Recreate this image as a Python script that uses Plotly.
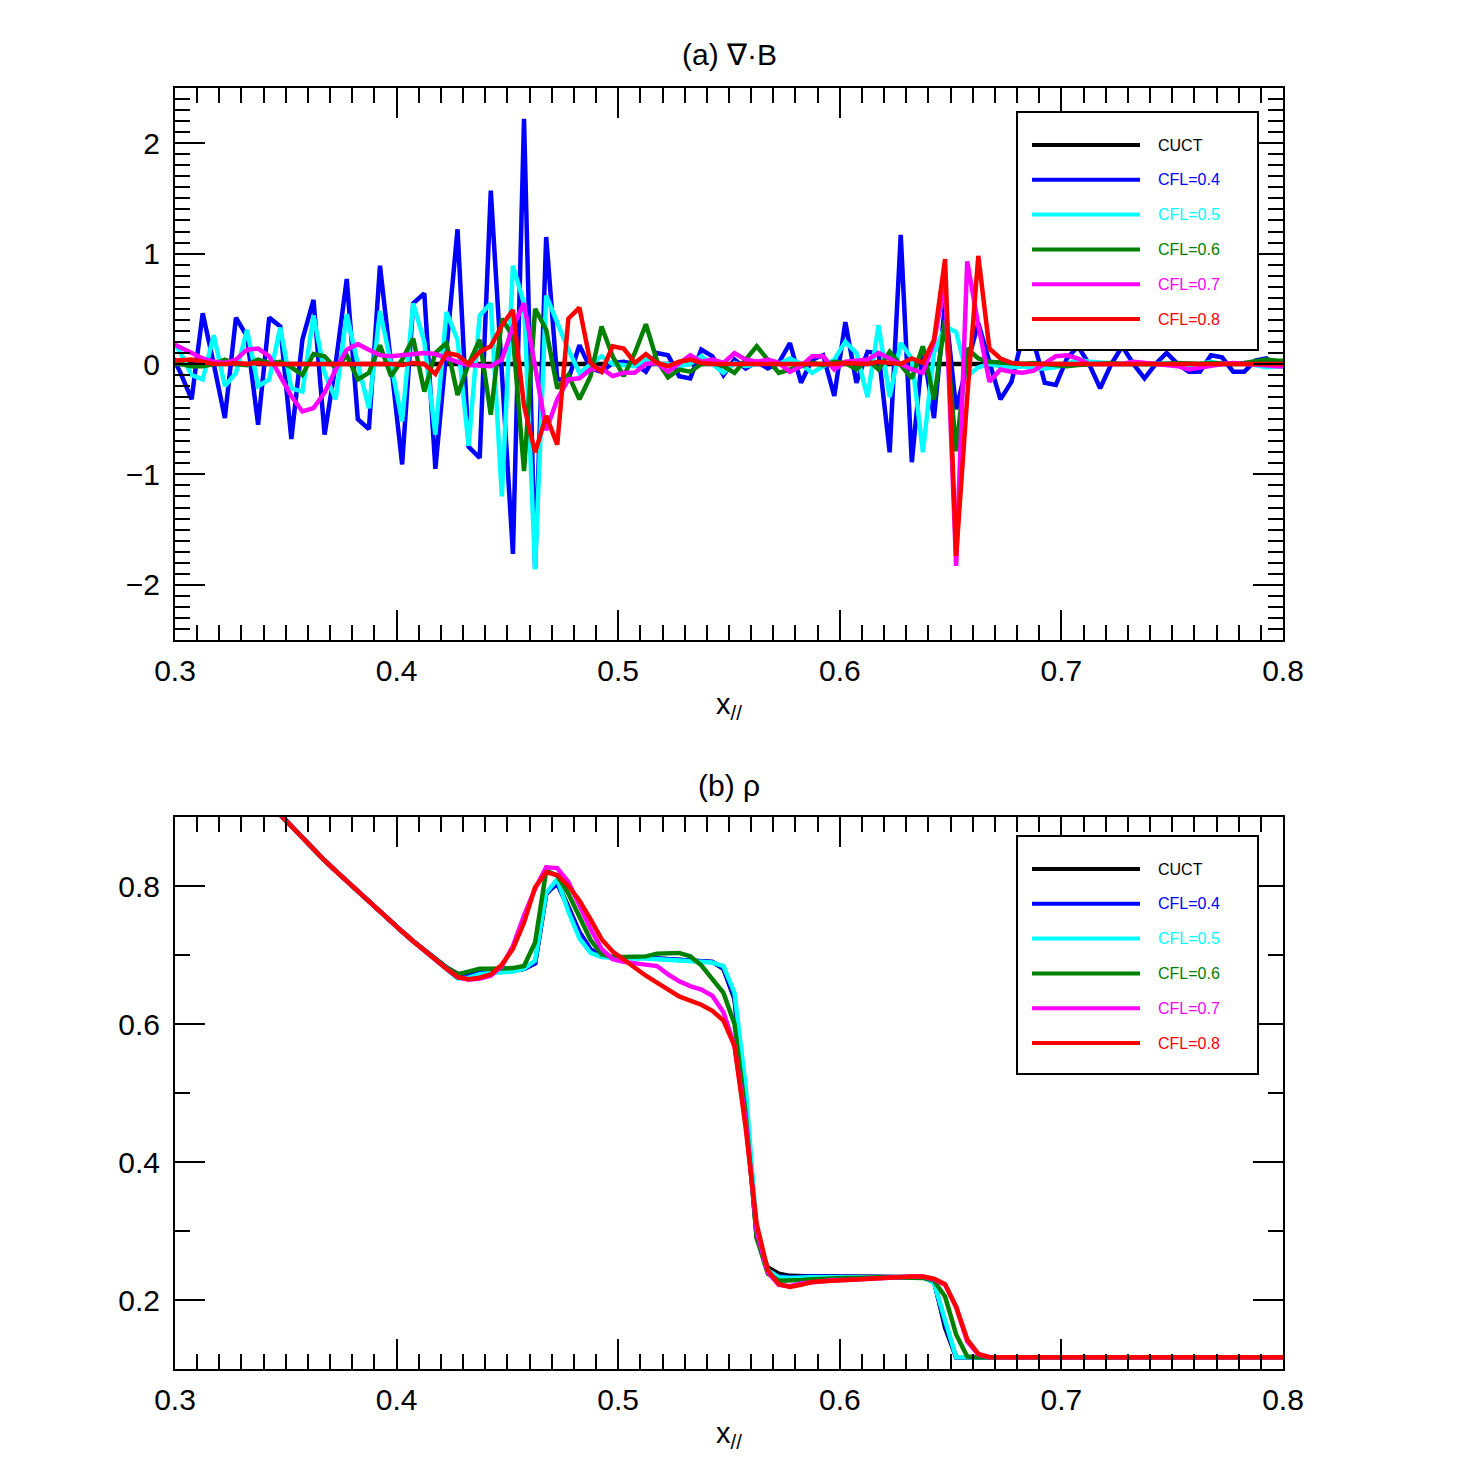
import plotly.graph_objects as go

# ---------------- data ----------------
# sample grid (cell centres, dx = 0.005)
x_top = [round(0.3025 + 0.005 * k, 4) for k in range(-1, 101)]
x_bot = [round(0.3025 + 0.005 * k, 4) for k in range(8, 101)]

series_names = ["CUCT", "CFL=0.4", "CFL=0.5", "CFL=0.6", "CFL=0.7", "CFL=0.8"]

# (a) div B
divb_cuct = [0.0] * 102
divb_cfl04 = [0.12,
    -0.08, -0.32, 0.46, 0.0, -0.49, 0.42, 0.25, -0.55, 0.42, 0.34,
    -0.68, 0.22, 0.58, -0.64, 0.0, 0.77, -0.50, -0.59, 0.89, 0.0,
    -0.91, 0.55, 0.64, -0.95, 0.12, 1.22, -0.75, -0.85, 1.57, -0.1,
    -1.72, 2.22, -1.85, 1.15, -0.14, -0.14, 0.17, -0.04, -0.07, 0.01,
    0.02, 0.0, -0.07, 0.1, 0.08, -0.11, -0.13, 0.13, 0.07, -0.1,
    0.04, -0.04, 0.02, -0.04, 0.01, 0.19, -0.17, 0.04, 0.08, -0.29,
    0.38, -0.17, 0.11, 0.1, -0.8, 1.17, -0.89, 0.15, -0.49, 0.55,
    -0.41, 0.0, 0.37, 0.02, -0.32, -0.16, 0.25, 0.2, -0.17, -0.19,
    0.05, 0.16, 0.0, -0.22, 0.0, 0.16, 0.0, -0.13, 0.0, 0.1,
    0.0, -0.07, -0.07, 0.08, 0.06, -0.07, -0.07, 0.03, 0.05, -0.02,
    -0.02]
divb_cfl05 = [0.25,
    0.1, -0.1, -0.14, 0.26, -0.2, -0.08, 0.31, -0.2, -0.14, 0.33,
    -0.22, -0.25, 0.44, -0.08, -0.32, 0.45, 0.0, -0.4, 0.48, 0.0,
    -0.52, 0.55, 0.2, -0.64, 0.47, 0.22, -0.74, 0.44, 0.55, -1.2,
    0.89, 0.55, -1.86, 0.62, 0.37, 0.13, -0.08, 0.0, 0.07, 0.0,
    -0.01, -0.02, 0.04, 0.0, 0.0, -0.02, 0.0, 0.07, 0.0, -0.08,
    0.01, -0.02, 0.0, 0.02, 0.0, 0.05, 0.0, -0.08, -0.02, 0.04,
    0.2, 0.1, -0.3, 0.35, -0.3, 0.19, 0.05, -0.8, 0.1, 0.34,
    0.29, -0.11, -0.03, 0.0, -0.02, -0.03, -0.02, -0.04, -0.04, -0.03,
    0.0, 0.04, 0.02, 0.01, 0.0, 0.0, 0.02, 0.0, 0.0, 0.01,
    0.0, -0.01, 0.0, 0.02, 0.0, 0.0, 0.01, -0.01, -0.03, -0.02,
    -0.03]
divb_cfl06 = [0.0,
    0.0, -0.02, -0.02, 0.0, 0.04, 0.0, -0.01, 0.04, 0.01, 0.02,
    -0.03, -0.1, 0.09, 0.07, -0.04, 0.08, -0.14, -0.08, 0.17, -0.11,
    0.04, 0.23, -0.25, 0.1, 0.19, -0.28, 0.0, 0.22, -0.46, 0.41,
    0.25, -0.97, 0.5, 0.31, -0.22, -0.1, -0.32, -0.11, 0.34, 0.07,
    -0.11, 0.1, 0.36, 0.03, -0.12, -0.05, -0.07, 0.0, 0.01, -0.02,
    -0.08, 0.04, 0.16, 0.04, -0.08, -0.05, -0.02, 0.01, -0.01, 0.02,
    0.01, -0.05, 0.04, -0.05, 0.11, -0.01, -0.13, 0.16, -0.32, 0.4,
    -0.79, 0.14, 0.05, 0.02, 0.01, 0.0, 0.0, 0.01, 0.0, 0.0,
    -0.02, -0.01, 0.0, 0.0, 0.01, 0.0, 0.0, 0.0, -0.01, 0.0,
    0.01, 0.0, 0.0, 0.01, 0.0, 0.0, 0.01, 0.03, 0.04, 0.03,
    0.03]
divb_cfl07 = [0.2,
    0.15, 0.11, 0.05, 0.02, 0.01, 0.04, 0.13, 0.14, 0.07, -0.11,
    -0.29, -0.43, -0.4, -0.26, -0.05, 0.13, 0.18, 0.13, 0.08, 0.07,
    0.08, 0.1, 0.1, 0.09, 0.05, 0.02, -0.01, -0.01, -0.02, 0.04,
    0.34, 0.55, -0.05, -0.6, -0.32, -0.14, -0.13, -0.05, -0.04, -0.11,
    -0.08, -0.08, 0.0, 0.01, -0.07, 0.0, 0.08, 0.02, 0.04, 0.01,
    0.1, 0.04, 0.02, 0.04, 0.01, -0.07, -0.02, 0.07, 0.07, -0.05,
    0.02, 0.03, 0.04, 0.1, 0.05, 0.0, -0.05, -0.08, 0.2, 0.75,
    -1.83, 0.93, 0.35, -0.16, -0.05, -0.07, -0.08, -0.06, 0.0, 0.07,
    0.08, 0.05, 0.0, 0.0, 0.01, 0.0, 0.02, 0.01, 0.01, 0.0,
    -0.02, -0.05, -0.03, -0.01, 0.0, 0.01, 0.0, 0.0, -0.01, -0.02,
    -0.02]
divb_cfl08 = [0.03,
    0.04, 0.04, 0.02, 0.0, 0.0, 0.01, 0.0, 0.01, 0.0, 0.0,
    0.0, 0.0, 0.0, 0.01, 0.0, 0.01, 0.01, 0.01, 0.0, 0.0,
    -0.01, 0.01, 0.0, -0.09, 0.1, 0.08, 0.0, 0.11, 0.16, 0.35,
    0.49, -0.38, -0.8, -0.47, -0.73, 0.41, 0.51, 0.01, -0.07, 0.16,
    0.14, 0.01, 0.09, 0.01, -0.02, 0.02, 0.04, 0.01, 0.0, 0.0,
    0.0, 0.0, 0.0, 0.0, 0.0, -0.01, 0.0, 0.0, 0.0, 0.0,
    0.01, 0.0, 0.0, 0.02, 0.01, 0.0, 0.05, 0.01, 0.22, 0.95,
    -1.74, -0.3, 0.98, 0.14, 0.05, 0.01, 0.0, 0.0, 0.0, 0.0,
    0.0, 0.0, 0.0, 0.0, 0.0, 0.0, 0.0, 0.0, 0.0, 0.0,
    0.0, 0.0, 0.0, 0.0, 0.0, 0.0, 0.0, 0.0, 0.0, 0.0,
    0.0]

# (b) rho
rho_cuct = [0.92, 0.903,
    0.886, 0.869, 0.853, 0.837, 0.822, 0.807, 0.792, 0.777, 0.762, 0.748,
    0.734, 0.720, 0.707, 0.694, 0.682, 0.673, 0.672, 0.676, 0.676, 0.676,
    0.677, 0.680, 0.688, 0.788, 0.806, 0.770, 0.733, 0.708, 0.698, 0.697,
    0.697, 0.696, 0.696, 0.695, 0.694, 0.693, 0.692, 0.691, 0.690, 0.680,
    0.636, 0.48, 0.29, 0.247, 0.238, 0.235, 0.234, 0.234, 0.234, 0.234,
    0.234, 0.234, 0.234, 0.234, 0.234, 0.234, 0.234, 0.233, 0.229, 0.16,
    0.117, 0.117, 0.117, 0.117, 0.117, 0.117, 0.117, 0.117, 0.117, 0.117,
    0.117, 0.117, 0.117, 0.117, 0.117, 0.117, 0.117, 0.117, 0.117, 0.117,
    0.117, 0.117, 0.117, 0.117, 0.117, 0.117, 0.117, 0.117, 0.117, 0.117,
    0.117]
rho_cfl04 = [0.92, 0.903,
    0.886, 0.869, 0.853, 0.837, 0.822, 0.807, 0.792, 0.777, 0.762, 0.748,
    0.734, 0.720, 0.707, 0.694, 0.682, 0.671, 0.672, 0.676, 0.676, 0.676,
    0.677, 0.680, 0.688, 0.790, 0.803, 0.768, 0.733, 0.708, 0.698, 0.697,
    0.697, 0.696, 0.696, 0.695, 0.694, 0.693, 0.692, 0.691, 0.690, 0.681,
    0.638, 0.49, 0.295, 0.242, 0.234, 0.233, 0.234, 0.234, 0.234, 0.234,
    0.234, 0.234, 0.234, 0.234, 0.234, 0.234, 0.234, 0.233, 0.226, 0.165,
    0.117, 0.117, 0.117, 0.117, 0.117, 0.117, 0.117, 0.117, 0.117, 0.117,
    0.117, 0.117, 0.117, 0.117, 0.117, 0.117, 0.117, 0.117, 0.117, 0.117,
    0.117, 0.117, 0.117, 0.117, 0.117, 0.117, 0.117, 0.117, 0.117, 0.117,
    0.117]
rho_cfl05 = [0.92, 0.903,
    0.886, 0.869, 0.853, 0.837, 0.822, 0.807, 0.792, 0.777, 0.762, 0.748,
    0.734, 0.720, 0.706, 0.692, 0.678, 0.666, 0.667, 0.672, 0.674, 0.675,
    0.676, 0.680, 0.692, 0.790, 0.810, 0.763, 0.724, 0.703, 0.697, 0.696,
    0.695, 0.695, 0.695, 0.694, 0.693, 0.692, 0.691, 0.690, 0.689, 0.684,
    0.645, 0.51, 0.30, 0.243, 0.233, 0.232, 0.233, 0.233, 0.233, 0.233,
    0.233, 0.233, 0.234, 0.234, 0.234, 0.234, 0.234, 0.233, 0.225, 0.17,
    0.117, 0.117, 0.117, 0.117, 0.117, 0.117, 0.117, 0.117, 0.117, 0.117,
    0.117, 0.117, 0.117, 0.117, 0.117, 0.117, 0.117, 0.117, 0.117, 0.117,
    0.117, 0.117, 0.117, 0.117, 0.117, 0.117, 0.117, 0.117, 0.117, 0.117,
    0.117]
rho_cfl06 = [0.92, 0.903,
    0.886, 0.869, 0.853, 0.837, 0.822, 0.807, 0.792, 0.777, 0.762, 0.748,
    0.734, 0.720, 0.707, 0.694, 0.682, 0.672, 0.676, 0.680, 0.680, 0.680,
    0.681, 0.684, 0.718, 0.822, 0.815, 0.789, 0.757, 0.722, 0.701, 0.697,
    0.697, 0.697, 0.698, 0.702, 0.703, 0.703, 0.698, 0.685, 0.665, 0.645,
    0.600, 0.47, 0.29, 0.238, 0.228, 0.228, 0.229, 0.230, 0.231, 0.231,
    0.232, 0.232, 0.233, 0.233, 0.233, 0.233, 0.233, 0.232, 0.228, 0.205,
    0.15, 0.118, 0.117, 0.117, 0.117, 0.117, 0.117, 0.117, 0.117, 0.117,
    0.117, 0.117, 0.117, 0.117, 0.117, 0.117, 0.117, 0.117, 0.117, 0.117,
    0.117, 0.117, 0.117, 0.117, 0.117, 0.117, 0.117, 0.117, 0.117, 0.117,
    0.117]
rho_cfl07 = [0.92, 0.903,
    0.886, 0.869, 0.853, 0.837, 0.822, 0.807, 0.792, 0.777, 0.762, 0.748,
    0.734, 0.720, 0.706, 0.693, 0.680, 0.668, 0.664, 0.666, 0.670, 0.684,
    0.713, 0.757, 0.796, 0.827, 0.826, 0.806, 0.771, 0.738, 0.709, 0.694,
    0.690, 0.688, 0.687, 0.684, 0.672, 0.662, 0.655, 0.650, 0.641, 0.617,
    0.568, 0.46, 0.30, 0.240, 0.222, 0.220, 0.224, 0.226, 0.228, 0.229,
    0.229, 0.230, 0.231, 0.231, 0.232, 0.233, 0.234, 0.234, 0.230, 0.222,
    0.190, 0.14, 0.121, 0.117, 0.117, 0.117, 0.117, 0.117, 0.117, 0.117,
    0.117, 0.117, 0.117, 0.117, 0.117, 0.117, 0.117, 0.117, 0.117, 0.117,
    0.117, 0.117, 0.117, 0.117, 0.117, 0.117, 0.117, 0.117, 0.117, 0.117,
    0.117]
rho_cfl08 = [0.92, 0.903,
    0.886, 0.869, 0.853, 0.837, 0.822, 0.807, 0.792, 0.777, 0.762, 0.748,
    0.734, 0.720, 0.706, 0.693, 0.680, 0.668, 0.665, 0.667, 0.672, 0.686,
    0.709, 0.747, 0.798, 0.820, 0.816, 0.800, 0.779, 0.752, 0.723, 0.705,
    0.693, 0.680, 0.670, 0.660, 0.650, 0.640, 0.634, 0.628, 0.619, 0.605,
    0.568, 0.45, 0.31, 0.243, 0.223, 0.219, 0.222, 0.226, 0.227, 0.228,
    0.229, 0.230, 0.231, 0.232, 0.233, 0.234, 0.234, 0.234, 0.231, 0.223,
    0.19, 0.143, 0.122, 0.117, 0.117, 0.117, 0.117, 0.117, 0.117, 0.117,
    0.117, 0.117, 0.117, 0.117, 0.117, 0.117, 0.117, 0.117, 0.117, 0.117,
    0.117, 0.117, 0.117, 0.117, 0.117, 0.117, 0.117, 0.117, 0.117, 0.117,
    0.117]

top_series = [divb_cuct, divb_cfl04, divb_cfl05, divb_cfl06, divb_cfl07, divb_cfl08]
bot_series = [rho_cuct, rho_cfl04, rho_cfl05, rho_cfl06, rho_cfl07, rho_cfl08]
colors = ["#000000", "#0000ff", "#00ffff", "#008000", "#ff00ff", "#ff0000"]

# ---------------- figure ----------------
W = H = 1459
FONT = "Liberation Sans, Arial, sans-serif"

fig = go.Figure()
for name, col, y in zip(series_names, colors, top_series):
    fig.add_trace(go.Scatter(x=x_top, y=y, mode="lines", name=name,
                             line=dict(color=col, width=4.5),
                             xaxis="x", yaxis="y", showlegend=False))
for name, col, y in zip(series_names, colors, bot_series):
    fig.add_trace(go.Scatter(x=x_bot, y=y, mode="lines", name=name,
                             line=dict(color=col, width=4.5),
                             xaxis="x2", yaxis="y2", showlegend=False))


def px_x(p):
    return p / W


def px_y(p):
    return 1 - p / H


xdom = [px_x(175), px_x(1283)]
common_axis = dict(
    showline=True, linewidth=2, linecolor="black", mirror="ticks",
    ticks="inside", ticklen=30, tickwidth=2, tickcolor="black",
    showgrid=False, zeroline=False, automargin=False,
    tickfont=dict(family=FONT, size=30, color="black"),
)
xaxis_common = dict(common_axis, range=[0.3, 0.8], tick0=0.3, dtick=0.1,
                    tickformat=".1f", ticklabelstandoff=3,
                    minor=dict(ticks="inside", ticklen=15, tickwidth=2,
                               tickcolor="black", dtick=0.01, showgrid=False),
                    title=dict(text="x<sub>//</sub>", standoff=8,
                               font=dict(family=FONT, size=29, color="black")))

fig.update_layout(
    width=W, height=H, autosize=False,
    margin=dict(l=0, r=0, t=0, b=0, pad=0, autoexpand=False),
    paper_bgcolor="white", plot_bgcolor="white",
    showlegend=False,
    xaxis=dict(xaxis_common, domain=xdom, anchor="y"),
    yaxis=dict(common_axis, domain=[px_y(640), px_y(88)], anchor="x",
               range=[-2.5, 2.5], tick0=0, dtick=1, ticklabelstandoff=7,
               minor=dict(ticks="inside", ticklen=15, tickwidth=2,
                          tickcolor="black", dtick=0.1, showgrid=False)),
    xaxis2=dict(xaxis_common, domain=xdom, anchor="y2"),
    yaxis2=dict(common_axis, domain=[px_y(1369), px_y(817)], anchor="x2",
                range=[0.1, 0.9], tick0=0.2, dtick=0.2, tickformat=".1f",
                ticklabelstandoff=7,
                minor=dict(ticks="inside", ticklen=15, tickwidth=2,
                           tickcolor="black", dtick=0.1, showgrid=False)),
)

annotations = [
    dict(text="(a) \u2207\u00b7B", x=px_x(729), y=px_y(55), xref="paper", yref="paper",
         showarrow=False, xanchor="center", yanchor="middle",
         font=dict(family=FONT, size=30, color="black")),
    dict(text="(b) \u03c1", x=px_x(729), y=px_y(785), xref="paper", yref="paper",
         showarrow=False, xanchor="center", yanchor="middle",
         font=dict(family=FONT, size=30, color="black")),
]
shapes = []
for box_top in (112, 836):
    shapes.append(dict(type="rect", xref="paper", yref="paper", layer="above",
                       x0=px_x(1017), x1=px_x(1258),
                       y0=px_y(box_top + 238), y1=px_y(box_top),
                       fillcolor="white", line=dict(color="black", width=2)))
    for i, (name, col) in enumerate(zip(series_names, colors)):
        yy = box_top + 33 + 34.8 * i
        shapes.append(dict(type="line", xref="paper", yref="paper", layer="above",
                           x0=px_x(1032), x1=px_x(1140), y0=px_y(yy), y1=px_y(yy),
                           line=dict(color=col, width=4)))
        annotations.append(dict(text=name, x=px_x(1156), y=px_y(yy),
                                xref="paper", yref="paper", showarrow=False,
                                xanchor="left", yanchor="middle",
                                font=dict(family=FONT, size=16, color=col)))

fig.update_layout(annotations=annotations, shapes=shapes)
fig.write_html("out.html")
